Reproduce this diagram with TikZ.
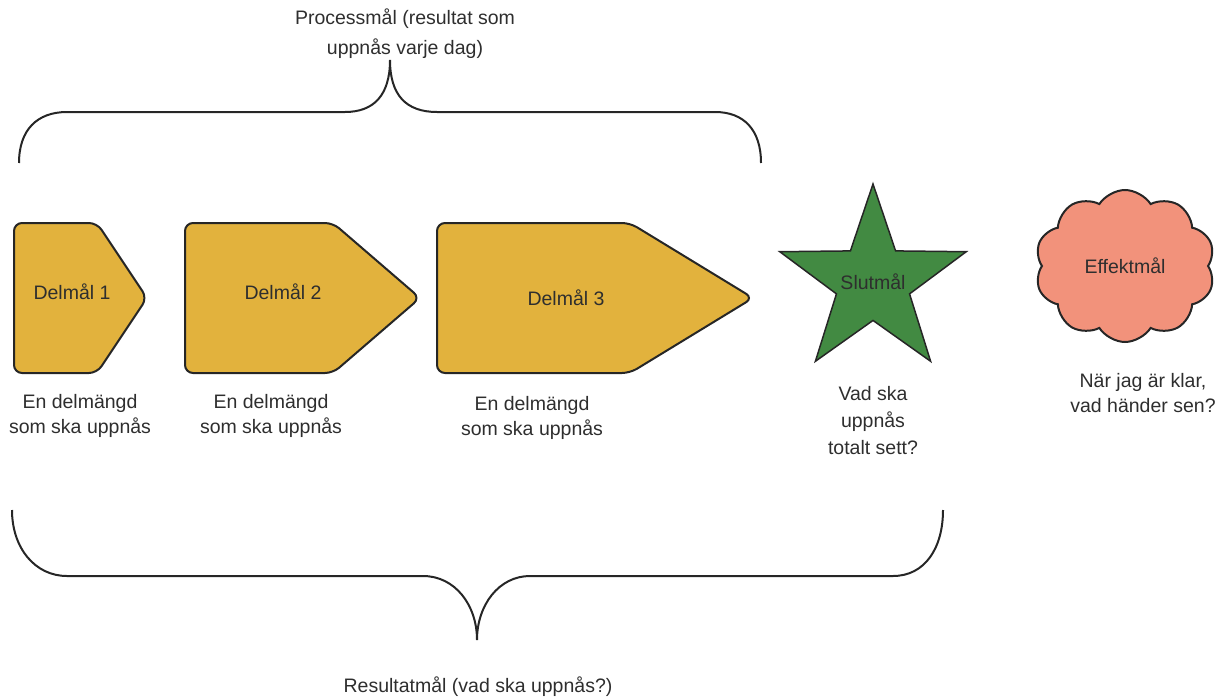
\documentclass[tikz,border=0pt]{standalone}
\usepackage{fontspec}
\setmainfont{Liberation Sans}
\usetikzlibrary{shapes.geometric, shapes.symbols, positioning}

\definecolor{delgold}{HTML}{E2B23D}
\definecolor{slutgreen}{HTML}{428A42}
\definecolor{effektsalmon}{HTML}{F2927B}
\definecolor{txtgray}{HTML}{2E2E2E}

\begin{document}
\begin{tikzpicture}[x=1pt, y=-1pt,
    every node/.style={font=\fontsize{19.5}{25}\selectfont, text=txtgray},
    goal/.style={draw=black!85, line width=2pt, rounded corners=8pt, fill=delgold},
    brace/.style={draw=black!85, line width=2pt},
    caption/.style={align=center}]
  \useasboundingbox (0,0) rectangle (1226,696);

  % delmål
  \foreach \l/\s/\t in {14/97/147, 185/333/420, 437/630/753}
    \draw[goal] (\l,223) -- (\s,223) -- (\t,298) -- (\s,373) -- (\l,373) -- cycle;
  \node (d1) at (72,292) {Delmål 1};
  \node (d2) at (283,292) {Delmål 2};
  \node (d3) at (566,298) {Delmål 3};

  \node[star, star points=5, star point ratio=2.55, minimum size=196pt, inner sep=0pt,
        draw=black!85, line width=1.5pt, fill=slutgreen, label={center:Slutmål}] (slut) at (873,282) {};
  \node[cloud, cloud puffs=10, cloud puff arc=115, aspect=1.2, minimum width=180pt,
        minimum height=152pt, draw=black!85, line width=2pt, fill=effektsalmon] (effekt) at (1125,266) {Effektmål};

  \node[caption] (d1txt) at (80,416) {En delmängd\\som ska uppnås};
  \node[caption] (d2txt) at (271,416) {En delmängd\\som ska uppnås};
  \node[caption] (d3txt) at (532,418) {En delmängd\\som ska uppnås};
  \node[caption, font=\fontsize{19.5}{27}\selectfont] (sluttxt) at (873,421) {Vad ska\\uppnås\\totalt sett?};
  \node[caption] (effekttxt) at (1143,393) {När jag är klar,\\vad händer sen?};

  % klamrar
  \draw[brace] (19,163) .. controls (19,130) and (37,112) .. (67,112) -- (345,112)
    .. controls (374,112) and (390,95) .. (390,60)
    .. controls (390,95) and (406,112) .. (437,112) -- (715,112)
    .. controls (744,112) and (761,130) .. (761,163);
  \node[caption, font=\fontsize{19.5}{30}\selectfont] (process) at (405,34) {Processmål (resultat som\\uppnås varje dag)};

  \draw[brace] (12,510) .. controls (12,548) and (35,576) .. (67,576) -- (423,576)
    .. controls (455,576) and (477,605) .. (477,640)
    .. controls (477,605) and (499,576) .. (530,576) -- (893,576)
    .. controls (925,576) and (943,548) .. (943,510);
  \node (resultat) at (478,687) {Resultatmål (vad ska uppnås?)};
\end{tikzpicture}
\end{document}
